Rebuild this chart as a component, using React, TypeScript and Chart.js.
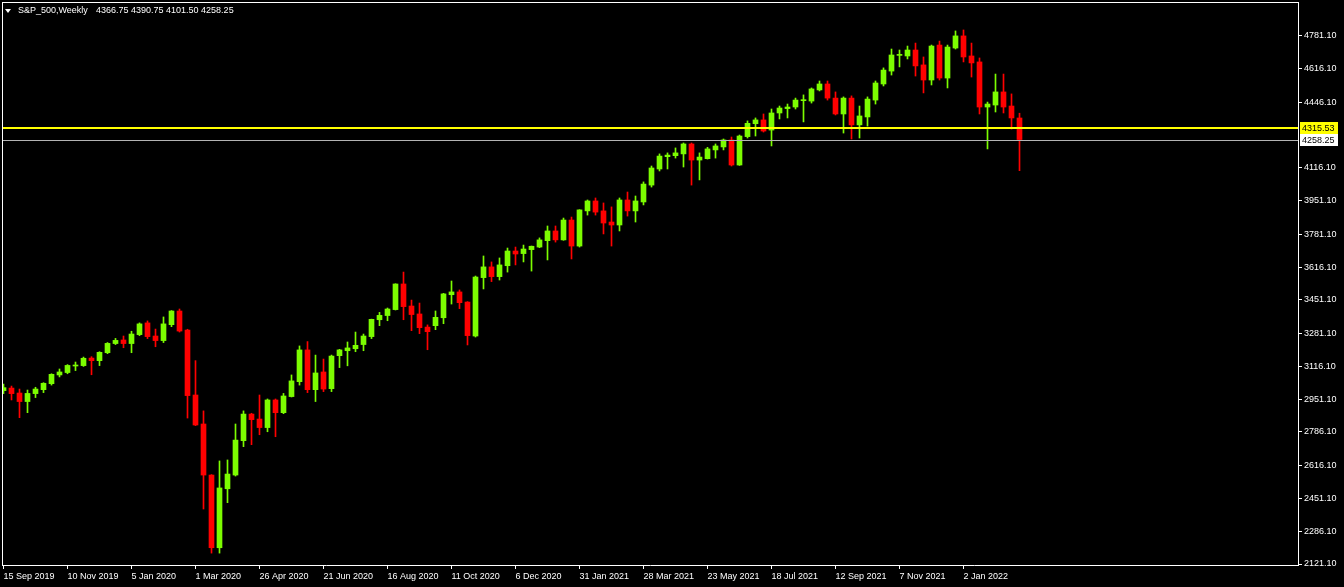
import React, { useEffect, useRef } from 'react';
import { Chart, registerables } from 'chart.js';

Chart.register(...registerables);

const symbolTitle = 'S&P_500,Weekly';
const lastBarOHLC = [4366.75, 4390.75, 4101.5, 4258.25];
const horizontalLinePrice = 4315.53;
const bidPrice = 4258.25;

const xTickLabels = [
  '15 Sep 2019', '10 Nov 2019', '5 Jan 2020', '1 Mar 2020', '26 Apr 2020', '21 Jun 2020',
  '16 Aug 2020', '11 Oct 2020', '6 Dec 2020', '31 Jan 2021', '28 Mar 2021', '23 May 2021',
  '18 Jul 2021', '12 Sep 2021', '7 Nov 2021', '2 Jan 2022',
];
const weeksPerLabel = 8;

const yTickValues = [
  4781.1, 4616.1, 4446.1, 4116.1, 3951.1, 3781.1, 3616.1, 3451.1, 3281.1,
  3116.1, 2951.1, 2786.1, 2616.1, 2451.1, 2286.1, 2121.1,
];

const opens = [
  2994, 3007, 2982, 2939, 2979, 2999, 3029, 3073, 3085, 3118,
  3120, 3158, 3145, 3185, 3231, 3249, 3231, 3276, 3335, 3269,
  3246, 3326, 3395, 3299, 2972, 2826, 2569, 2203, 2500, 2569,
  2742, 2876, 2851, 2808, 2947, 2883, 2964, 3039, 3199, 2999,
  3088, 3004, 3170, 3195, 3205, 3226, 3266, 3351, 3372, 3402,
  3531, 3420, 3380, 3314, 3321, 3361, 3477, 3491, 3440, 3269,
  3563, 3617, 3568, 3623, 3697, 3684, 3704, 3717, 3749, 3798,
  3753, 3853, 3722, 3899, 3949, 3899, 3843, 3828, 3954, 3899,
  3944, 4029, 4110, 4172, 4177, 4186, 4236, 4155, 4162, 4206,
  4221, 4256, 4130, 4273, 4338, 4357, 4306, 4392, 4414, 4422,
  4454, 4452, 4508, 4538, 4467, 4387, 4467, 4332, 4372, 4457,
  4538, 4603, 4682, 4679, 4709, 4634, 4558, 4734, 4568, 4719,
  4780, 4679, 4649, 4422, 4432, 4498, 4427, 4366.75,
];
const highs = [
  3027, 3017, 3002, 2997, 3011, 3034, 3079, 3103, 3125, 3138,
  3163, 3165, 3190, 3236, 3257, 3269, 3293, 3335, 3345, 3304,
  3365, 3397, 3405, 3303, 3145, 2892, 2571, 2640, 2645, 2826,
  2892, 2880, 2972, 2952, 2952, 2980, 3073, 3219, 3241, 3173,
  3153, 3173, 3202, 3239, 3289, 3279, 3354, 3388, 3410, 3532,
  3591, 3450, 3435, 3325, 3395, 3484, 3546, 3501, 3442, 3571,
  3672, 3642, 3662, 3712, 3717, 3727, 3722, 3763, 3823, 3823,
  3863, 3868, 3905, 3954, 3964, 3939, 3919, 3964, 3994, 3974,
  4045, 4125, 4186, 4191, 4216, 4241, 4241, 4191, 4219, 4236,
  4261, 4271, 4281, 4352, 4367, 4387, 4412, 4427, 4437, 4467,
  4483, 4518, 4553, 4553, 4498, 4473, 4478, 4427, 4473, 4553,
  4619, 4714, 4709, 4729, 4744, 4674, 4734, 4754, 4734, 4805,
  4810, 4744, 4669, 4447, 4588, 4588, 4488, 4390.75,
];
const lows = [
  2979, 2947, 2858, 2883, 2959, 2984, 3022, 3063, 3079, 3095,
  3116, 3074, 3120, 3180, 3226, 3210, 3185, 3271, 3256, 3215,
  3236, 3316, 3289, 2856, 2818, 2398, 2176, 2176, 2430, 2564,
  2712, 2722, 2772, 2787, 2762, 2878, 2962, 3022, 2984, 2939,
  2989, 2989, 3110, 3119, 3190, 3195, 3256, 3321, 3346, 3400,
  3351, 3296, 3281, 3200, 3301, 3331, 3430, 3407, 3224, 3264,
  3506, 3543, 3551, 3591, 3627, 3642, 3596, 3714, 3652, 3742,
  3751, 3657, 3717, 3878, 3878, 3783, 3722, 3798, 3873, 3843,
  3929, 4019, 4100, 4110, 4165, 4120, 4029, 4055, 4160, 4165,
  4206, 4125, 4128, 4266, 4276, 4296, 4226, 4362, 4367, 4412,
  4347, 4442, 4503, 4457, 4382, 4291, 4261, 4266, 4326, 4437,
  4528, 4583, 4624, 4664, 4578, 4493, 4533, 4558, 4518, 4714,
  4649, 4573, 4387, 4211, 4397, 4392, 4311, 4101.5,
];
const closes = [
  3009, 2979, 2939, 2980, 3002, 3031, 3076, 3088, 3121, 3121,
  3157, 3145, 3187, 3232, 3247, 3231, 3279, 3330, 3266, 3246,
  3330, 3395, 3294, 2969, 2821, 2569, 2203, 2504, 2574, 2745,
  2876, 2848, 2808, 2947, 2883, 2967, 3043, 3199, 2999, 3083,
  3002, 3168, 3199, 3209, 3222, 3269, 3353, 3373, 3405, 3531,
  3417, 3377, 3311, 3291, 3363, 3481, 3491, 3437, 3271, 3566,
  3617, 3568, 3627, 3697, 3682, 3707, 3721, 3753, 3798, 3753,
  3853, 3722, 3904, 3949, 3893, 3838, 3828, 3954, 3899, 3949,
  4034, 4115, 4175, 4180, 4191, 4236, 4155, 4170, 4211, 4226,
  4256, 4130, 4276, 4340, 4357, 4301, 4392, 4417, 4422, 4457,
  4457, 4513, 4538, 4467, 4387, 4467, 4332, 4377, 4462, 4543,
  4608, 4684, 4686, 4709, 4629, 4558, 4729, 4568, 4724, 4780,
  4674, 4644, 4422, 4437, 4498, 4422, 4367, 4258.25,
];

const X_MIN = -0.1875;
const X_MAX = 161.8125;
const Y_MIN = 2116.08;
const Y_MAX = 4950.78;

const BULL = '#7CFC00';
const BEAR = '#FF0000';
const FONT = '"Liberation Sans", Arial, sans-serif';

const mt4Plugin = {
  id: 'mt4Decor',
  beforeDraw(chart: any) {
    const { ctx, width, height } = chart;
    ctx.save();
    ctx.fillStyle = '#000';
    ctx.fillRect(0, 0, width, height);
    ctx.restore();
  },
  afterDatasetsDraw(chart: any) {
    const { ctx, chartArea } = chart;
    const ys = chart.scales.y;
    ctx.save();
    const yb = Math.round(ys.getPixelForValue(bidPrice));
    ctx.fillStyle = '#b4b4b4';
    ctx.fillRect(chartArea.left, yb, chartArea.right - chartArea.left, 1);
    const yl = Math.round(ys.getPixelForValue(horizontalLinePrice));
    ctx.fillStyle = '#FFFF00';
    ctx.fillRect(chartArea.left, yl - 1, chartArea.right - chartArea.left, 2);
    ctx.restore();
  },
  afterDraw(chart: any) {
    const { ctx, chartArea } = chart;
    const ys = chart.scales.y;
    ctx.save();
    // frame left/top
    ctx.fillStyle = '#ffffff';
    ctx.fillRect(chartArea.left, chartArea.top, 1, chartArea.bottom - chartArea.top);
    ctx.fillRect(chartArea.left, chartArea.top, chartArea.right - chartArea.left, 1);

    // price boxes on axis
    ctx.font = `9px ${FONT}`;
    ctx.textBaseline = 'middle';
    ctx.textAlign = 'left';
    const boxes = [
      { price: horizontalLinePrice, bg: '#FFFF00' },
      { price: bidPrice, bg: '#FFFFFF' },
    ];
    boxes.forEach((b) => {
      const y = Math.round(ys.getPixelForValue(b.price));
      ctx.fillStyle = b.bg;
      ctx.fillRect(chartArea.right + 2, y - 6, 38, 12);
      ctx.fillStyle = '#000';
      ctx.fillText(b.price.toFixed(2), chartArea.right + 4, y + 0.5);
    });

    // top-left caption
    ctx.fillStyle = '#ffffff';
    ctx.beginPath();
    ctx.moveTo(5, 9);
    ctx.lineTo(11, 9);
    ctx.lineTo(8, 13);
    ctx.closePath();
    ctx.fill();
    ctx.fillText(symbolTitle, 18, 11);
    ctx.fillText(lastBarOHLC.map((v) => v.toFixed(2)).join(' '), 96, 11);
    ctx.restore();
  },
};

export default function App() {
  const ref = useRef<HTMLCanvasElement>(null);

  useEffect(() => {
    document.body.style.margin = '0';
    document.body.style.background = '#000';
    const canvas = ref.current!;
    const idx = opens.map((_, i) => i);
    const colors = idx.map((i) => (closes[i] >= opens[i] ? BULL : BEAR));

    const chart = new Chart(canvas, {
      type: 'bar',
      data: {
        datasets: [
          {
            label: 'body',
            data: idx.map((i) => ({ x: i, y: [opens[i], closes[i]] })) as any,
            backgroundColor: colors,
            borderWidth: 0,
            barThickness: 5,
            minBarLength: 1,
            grouped: false,
          } as any,
          {
            label: 'wick',
            data: idx.map((i) => ({ x: i, y: [lows[i], highs[i]] })) as any,
            backgroundColor: colors,
            borderWidth: 0,
            barThickness: 1,
            grouped: false,
          } as any,
        ],
      },
      options: {
        animation: false,
        responsive: false,
        devicePixelRatio: 1,
        events: [],
        layout: { padding: { left: 2, top: 2, right: 0, bottom: 0 } },
        plugins: {
          legend: { display: false },
          tooltip: { enabled: false },
          title: { display: false },
        },
        scales: {
          x: {
            type: 'linear',
            position: 'bottom',
            min: X_MIN,
            max: X_MAX,
            offset: false,
            grid: {
              display: true,
              drawOnChartArea: false,
              drawTicks: true,
              tickLength: 4,
              color: '#ffffff',
              offset: false,
            },
            border: { display: true, color: '#ffffff', width: 1 },
            ticks: {
              color: '#ffffff',
              font: { family: FONT, size: 9 },
              padding: 2,
              maxRotation: 0,
              minRotation: 0,
              autoSkip: false,
              align: 'start',
              callback: (_v: any, i: number) => xTickLabels[i] ?? '',
            },
            afterBuildTicks: (s: any) => {
              s.ticks = xTickLabels.map((_, i) => ({ value: i * weeksPerLabel }));
            },
            afterFit: (s: any) => {
              s.height = 22;
              s.paddingLeft = 0;
              s.paddingRight = 0;
            },
          } as any,
          y: {
            type: 'linear',
            position: 'right',
            min: Y_MIN,
            max: Y_MAX,
            grid: {
              display: true,
              drawOnChartArea: false,
              drawTicks: true,
              tickLength: 4,
              color: '#ffffff',
            },
            border: { display: true, color: '#ffffff', width: 1 },
            ticks: {
              color: '#ffffff',
              font: { family: FONT, size: 9 },
              padding: 2,
              autoSkip: false,
              callback: (v: any) => Number(v).toFixed(2),
            },
            afterBuildTicks: (s: any) => {
              s.ticks = yTickValues.map((v) => ({ value: v }));
            },
            afterFit: (s: any) => {
              s.width = 46;
              s.paddingTop = 0;
              s.paddingBottom = 0;
            },
          } as any,
        },
      },
      plugins: [mt4Plugin],
    });
    return () => chart.destroy();
  }, []);

  return (
    <div style={{ width: 1344, height: 587, background: '#000' }}>
      <canvas ref={ref} width={1344} height={587} style={{ display: 'block' }} />
    </div>
  );
}
